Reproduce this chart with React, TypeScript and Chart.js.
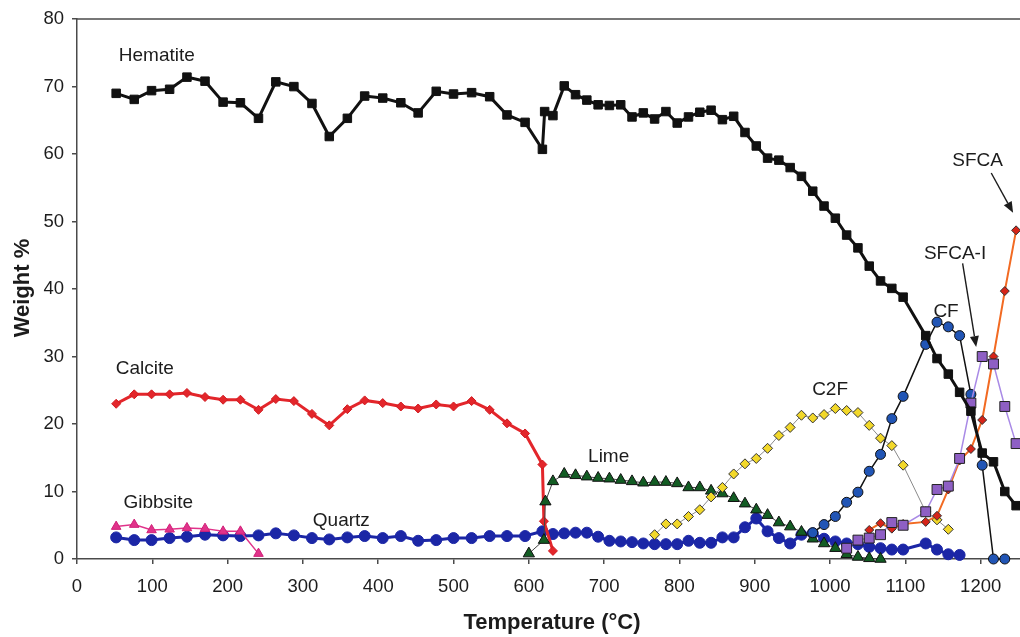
import React, { useEffect, useRef } from 'react';
import { Chart, registerables } from 'chart.js';

Chart.register(...registerables);

// Temperature grids (°C): slow steps up to ~620 °C, then 15 °C steps
const lowTemps = [52, 76, 99, 123, 146, 170, 194, 217, 241, 264, 288, 312, 335, 359, 382, 406, 430, 453, 477, 500, 524, 548, 571, 595, 618];
const highTemps = [632, 647, 662, 677, 692, 707, 722, 737, 752, 767, 782, 797, 812, 827, 842, 857, 872, 887, 902, 917, 932, 947, 962, 977, 992, 1007, 1022, 1037, 1052, 1067, 1082, 1097, 1112, 1127, 1142, 1157, 1172, 1187, 1202, 1217, 1232, 1247];

// Weight % per phase
const hematiteTemps = [...lowTemps, 621, ...highTemps];
const hematiteValues = [
  69.0, 68.1, 69.4, 69.6, 71.4, 70.8, 67.7, 67.6, 65.3, 70.7, 70.0, 67.5, 62.6, 65.3, 68.6, 68.3, 67.6, 66.1, 69.3, 68.9, 69.1, 68.5, 65.8, 64.7, 60.7,
  66.3,
  65.7, 70.1, 68.8, 68.0, 67.3, 67.2, 67.3, 65.5, 66.1, 65.2, 66.3, 64.6, 65.5, 66.2, 66.5, 65.1, 65.6, 63.2, 61.2, 59.4, 59.1, 58.0, 56.7, 54.5, 52.3, 50.5,
  48.0, 46.1, 43.4, 41.2, 40.1, 38.8, null, 33.1, 29.7, 27.4, 24.7, 21.9, 15.7, 14.4, 10.0, 7.9,
];

const calciteTemps = [...lowTemps, 620, 632];
const calciteValues = [
  23.0, 24.4, 24.4, 24.4, 24.6, 24.0, 23.6, 23.6, 22.1, 23.7, 23.4, 21.5, 19.8, 22.2, 23.5, 23.1, 22.6, 22.3, 22.9, 22.6, 23.4, 22.1, 20.1, 18.6, 14.0,
  5.6, 1.2,
];

const gibbsiteTemps = lowTemps.slice(0, 9);
const gibbsiteValues = [4.8, 5.1, 4.3, 4.4, 4.6, 4.5, 4.1, 4.1, 0.8];

const quartzTemps = [...lowTemps, ...highTemps.slice(0, 37)];
const quartzValues = [
  3.2, 2.8, 2.8, 3.1, 3.3, 3.6, 3.5, 3.4, 3.5, 3.8, 3.5, 3.1, 2.9, 3.2, 3.4, 3.1, 3.4, 2.7, 2.8, 3.1, 3.1, 3.4, 3.4, 3.4, 4.1,
  3.7, 3.8, 3.9, 3.9, 3.3, 2.7, 2.6, 2.5, 2.3, 2.2, 2.2, 2.2, 2.7, 2.4, 2.4, 3.2, 3.2, 4.7, 6.0, 4.1, 3.1, 2.3, 3.6, 3.8, 3.0, 2.6,
  2.3, 2.2, 1.8, 1.6, 1.4, 1.4, null, 2.3, 1.4, 0.7, 0.6,
];

const limeTemps = [600, 620, 622, ...highTemps.slice(0, 30)];
const limeValues = [
  0.8, 2.8, 8.5,
  11.5, 12.6, 12.4, 12.2, 12.0, 11.9, 11.7, 11.5, 11.3, 11.4, 11.4, 11.2, 10.6, 10.6, 10.1, 9.7, 9.0, 8.2, 7.3, 6.5, 5.4, 4.8, 4.0, 3.0,
  2.3, 1.6, 0.7, 0.3, 0.1, 0.0,
];

const c2fTemps = highTemps.slice(9, 36);
const c2fValues = [3.6, 5.2, 5.2, 6.3, 7.3, 9.2, 10.6, 12.6, 14.1, 14.9, 16.4, 18.3, 19.5, 21.3, 20.9, 21.4, 22.3, 22.0, 21.7, 19.8, 17.9, 16.8, 13.9, null, 7.0, 5.8, 4.4];

const cfTemps = highTemps.slice(23, 41);
const cfValues = [3.9, 5.1, 6.3, 8.4, 9.9, 13.0, 15.5, 20.8, 24.1, null, 31.8, 35.1, 34.4, 33.1, 24.4, 13.9, 0, 0];

const sfcaTemps = highTemps.slice(28, 42);
const sfcaValues = [4.3, 5.3, 4.5, 5.2, null, 5.5, 6.4, 10.3, 14.6, 16.3, 20.6, 30.0, 39.7, 48.7];

const sfcaITemps = highTemps.slice(26, 42);
const sfcaIValues = [1.6, 2.8, 3.1, 3.6, 5.4, 5.0, null, 7.0, 10.3, 10.8, 14.9, 23.1, 30.0, 28.9, 22.6, 17.1];

// Phase names written beside their curves (temperature, weight %)
const phaseLabels = [
  { text: 'Hematite', t: 106, v: 74.5 },
  { text: 'Calcite', t: 90, v: 28.2 },
  { text: 'Gibbsite', t: 108, v: 8.3 },
  { text: 'Quartz', t: 351, v: 5.6 },
  { text: 'Lime', t: 706, v: 15.2 },
  { text: 'C2F', t: 1000, v: 25.1 },
  { text: 'CF', t: 1154, v: 36.7 },
  { text: 'SFCA-I', t: 1166, v: 45.2 },
  { text: 'SFCA', t: 1196, v: 59.0 },
];

// Leader arrows from the SFCA labels to their curves
const leaderArrows = [
  { from: [1214, 57.2], to: [1243, 51.3] },
  { from: [1176, 43.8], to: [1194, 31.4] },
];

const FONT = '"Liberation Sans", Arial, Helvetica, sans-serif';
const INK = '#1c1c1c';
const AXIS = '#4a4a4a';

const zip = (temps: number[], values: (number | null)[]) =>
  temps.flatMap((t, i) => (values[i] == null ? [] : [{ x: t, y: values[i] as number }]));

const annotationPlugin = {
  id: 'phaseAnnotations',
  afterDatasetsDraw(chart: any) {
    const { ctx, chartArea, scales } = chart;
    const xs = scales.x;
    const ys = scales.y;
    ctx.save();

    // frame line along the top of the plot
    ctx.strokeStyle = AXIS;
    ctx.lineWidth = 1.5;
    ctx.beginPath();
    ctx.moveTo(chartArea.left, chartArea.top);
    ctx.lineTo(chartArea.right, chartArea.top);
    ctx.stroke();

    // phase names
    ctx.fillStyle = INK;
    ctx.font = `19px ${FONT}`;
    ctx.textAlign = 'center';
    ctx.textBaseline = 'middle';
    for (const l of phaseLabels) {
      ctx.fillText(l.text, xs.getPixelForValue(l.t), ys.getPixelForValue(l.v));
    }

    // leader arrows
    ctx.strokeStyle = INK;
    ctx.lineWidth = 1.4;
    for (const a of leaderArrows) {
      const x1 = xs.getPixelForValue(a.from[0]);
      const y1 = ys.getPixelForValue(a.from[1]);
      const x2 = xs.getPixelForValue(a.to[0]);
      const y2 = ys.getPixelForValue(a.to[1]);
      const ang = Math.atan2(y2 - y1, x2 - x1);
      const headLen = 11;
      const headW = 4.5;
      const bx = x2 - headLen * Math.cos(ang);
      const by = y2 - headLen * Math.sin(ang);
      ctx.beginPath();
      ctx.moveTo(x1, y1);
      ctx.lineTo(bx, by);
      ctx.stroke();
      ctx.beginPath();
      ctx.moveTo(x2, y2);
      ctx.lineTo(bx - headW * Math.sin(ang), by + headW * Math.cos(ang));
      ctx.lineTo(bx + headW * Math.sin(ang), by - headW * Math.cos(ang));
      ctx.closePath();
      ctx.fill();
    }

    // axis titles
    ctx.font = `bold 22px ${FONT}`;
    ctx.fillText('Temperature (°C)', chartArea.left + 475, chartArea.bottom + 64);
    ctx.translate(23, (chartArea.top + chartArea.bottom) / 2 - 1);
    ctx.rotate(-Math.PI / 2);
    ctx.fillText('Weight %', 0, 0);

    ctx.restore();
  },
};

export default function App() {
  const canvasRef = useRef<HTMLCanvasElement | null>(null);

  useEffect(() => {
    const canvas = canvasRef.current;
    if (!canvas) return;

    const base = { showLine: true, tension: 0, clip: false as any, pointHoverRadius: 0 };

    const datasets: any[] = [
      {
        ...base, label: 'Hematite', order: 1, data: zip(hematiteTemps, hematiteValues),
        borderColor: '#111111', borderWidth: 3, pointStyle: 'rect', pointRadius: 6,
        pointBackgroundColor: '#111111', pointBorderColor: '#111111', pointBorderWidth: 1,
      },
      {
        ...base, label: 'SFCA-I', order: 2, data: zip(sfcaITemps, sfcaIValues),
        borderColor: '#a98ae6', borderWidth: 1.5, pointStyle: 'rect', pointRadius: 7,
        pointBackgroundColor: '#8e5fc4', pointBorderColor: '#222222', pointBorderWidth: 1,
      },
      {
        ...base, label: 'SFCA', order: 3, data: zip(sfcaTemps, sfcaValues),
        borderColor: '#f26a22', borderWidth: 2, pointStyle: 'rectRot', pointRadius: 4.5,
        pointBackgroundColor: '#d62418', pointBorderColor: '#333333', pointBorderWidth: 1,
      },
      {
        ...base, label: 'CF', order: 4, data: zip(cfTemps, cfValues),
        borderColor: '#111111', borderWidth: 1.5, pointStyle: 'circle', pointRadius: 5,
        pointBackgroundColor: '#2155b5', pointBorderColor: '#111111', pointBorderWidth: 1,
      },
      {
        ...base, label: 'C2F', order: 5, data: zip(c2fTemps, c2fValues),
        borderColor: '#8a8a8a', borderWidth: 1, pointStyle: 'rectRot', pointRadius: 5,
        pointBackgroundColor: '#f2d82a', pointBorderColor: '#333333', pointBorderWidth: 1,
      },
      {
        ...base, label: 'Lime', order: 6, data: zip(limeTemps, limeValues),
        borderColor: '#444444', borderWidth: 1, pointStyle: 'triangle', pointRadius: 6.5,
        pointBackgroundColor: '#125c23', pointBorderColor: '#111111', pointBorderWidth: 1,
      },
      {
        ...base, label: 'Calcite', order: 7, data: zip(calciteTemps, calciteValues),
        borderColor: '#e3262b', borderWidth: 3, pointStyle: 'rectRot', pointRadius: 4.5,
        pointBackgroundColor: '#e3262b', pointBorderColor: '#d11a20', pointBorderWidth: 1,
      },
      {
        ...base, label: 'Gibbsite', order: 8, data: zip(gibbsiteTemps, gibbsiteValues),
        borderColor: '#e0338a', borderWidth: 1.5, pointStyle: 'triangle', pointRadius: 5.5,
        pointBackgroundColor: '#e0338a', pointBorderColor: '#d11f78', pointBorderWidth: 1,
      },
      {
        ...base, label: 'Quartz', order: 9, data: zip(quartzTemps, quartzValues),
        borderColor: '#1b26a6', borderWidth: 3, pointStyle: 'circle', pointRadius: 5.5,
        pointBackgroundColor: '#1b26a6', pointBorderColor: '#1b26a6', pointBorderWidth: 1,
      },
    ];

    const tickFont = { family: FONT, size: 18.5 };

    const chart = new Chart(canvas, {
      type: 'line',
      data: { datasets },
      options: {
        animation: false,
        responsive: false,
        devicePixelRatio: 1,
        layout: { padding: { top: 18, right: 5, left: 0, bottom: 0 } },
        plugins: { legend: { display: false }, tooltip: { enabled: false } },
        scales: {
          x: {
            type: 'linear',
            min: 0,
            max: 1300,
            afterFit: (s: any) => { s.height = 78; },
            ticks: {
              stepSize: 100,
              autoSkip: false,
              maxRotation: 0,
              padding: 12,
              color: INK,
              font: tickFont,
              callback: (v: any) => (Number(v) <= 1200 ? String(v) : ''),
            },
            grid: { drawOnChartArea: false, drawTicks: true, tickLength: 5, color: AXIS, lineWidth: 1.5 },
            border: { display: true, color: AXIS, width: 1.5 },
          },
          y: {
            type: 'linear',
            min: 0,
            max: 80,
            afterFit: (s: any) => { s.width = 77; },
            ticks: { stepSize: 10, padding: 8, color: INK, font: tickFont },
            grid: { drawOnChartArea: false, drawTicks: true, tickLength: 5, color: AXIS, lineWidth: 1.5 },
            border: { display: true, color: AXIS, width: 1.5 },
          },
        },
      },
      plugins: [annotationPlugin],
    });

    return () => chart.destroy();
  }, []);

  return (
    <div
      style={{
        position: 'absolute',
        left: 0,
        top: 0,
        width: 1020,
        height: 637,
        overflow: 'hidden',
        background: '#ffffff',
      }}
    >
      <canvas ref={canvasRef} width={1068} height={637} style={{ display: 'block' }} />
    </div>
  );
}
